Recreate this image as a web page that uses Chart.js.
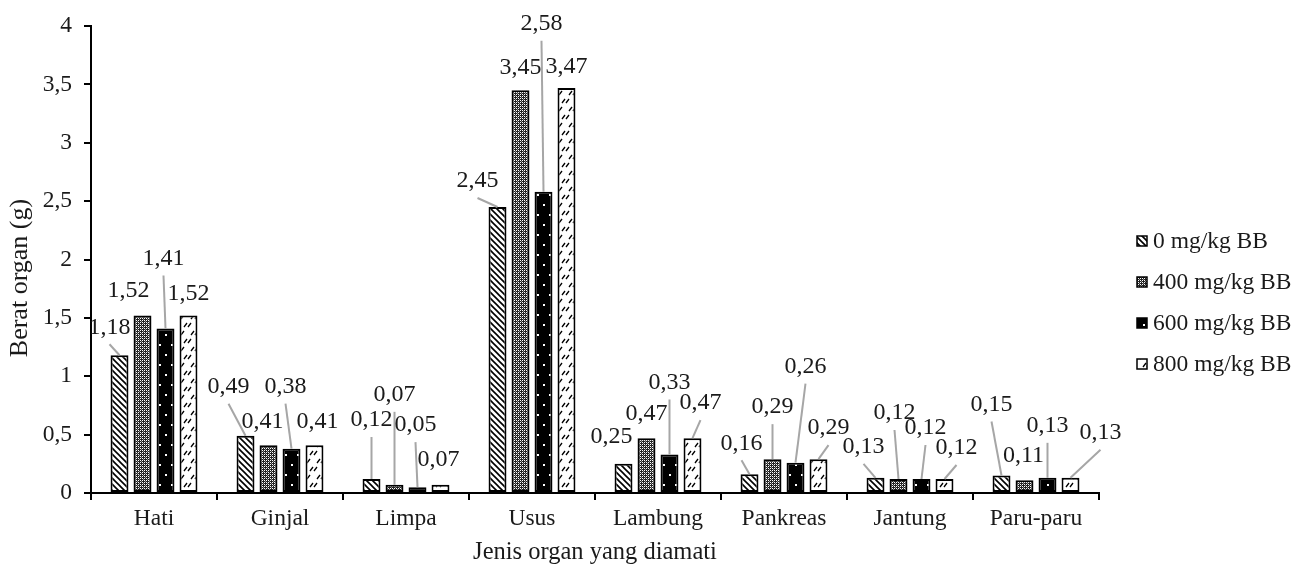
<!DOCTYPE html>
<html>
<head>
<meta charset="utf-8">
<script src="https://cdn.jsdelivr.net/npm/chart.js@4.4.1/dist/chart.umd.min.js"></script>
<style>
  body { margin: 0; background: #fff; }
</style>
</head>
<body>
<div style="width:1308px;height:575px">
  <canvas id="organChart" width="1308" height="575"></canvas>
</div>
<script>
var organs = ['Hati', 'Ginjal', 'Limpa', 'Usus', 'Lambung', 'Pankreas', 'Jantung', 'Paru-paru'];
var doseLabels = ['0 mg/kg BB', '400 mg/kg BB', '600 mg/kg BB', '800 mg/kg BB'];
var dose0 = [1.18, 0.49, 0.12, 2.45, 0.25, 0.16, 0.13, 0.15];
var dose400 = [1.52, 0.41, 0.07, 3.45, 0.47, 0.29, 0.12, 0.11];
var dose600 = [1.41, 0.38, 0.05, 2.58, 0.33, 0.26, 0.12, 0.13];
var dose800 = [1.52, 0.41, 0.07, 3.47, 0.47, 0.29, 0.12, 0.13];
var yMax = 4;
var yStep = 0.5;
var yTitle = 'Berat organ (g)';

// label offset from top-centre of each bar: [dx, dy, leader line?]
var labelOffsets = [
  [[-10,-28,1], [-17,-49,1], [0,-59,1], [-20,-26,1], [-12,-27,0], [-8,-31,1], [-12,-31,1], [-10,-71,1]],
  [[-14,-25,0], [-6,-23,0], [0,-90,1], [0,-23,0], [0,-24,0], [0,-52,1], [-4,-66,1], [-1,-24,0]],
  [[-2,-70,1], [-6,-62,1], [-2,-62,1], [-2,-168,1], [0,-72,1], [10,-96,1], [4,-51,1], [0,-52,1]],
  [[0,-22,0], [3,-23,0], [-2,-25,0], [0,-21,0], [8,-35,1], [10,-31,1], [12,-31,1], [30,-45,1]]
];

var serif = 'Liberation Serif';
var textColor = '#1a1a1a';
var fontSize = 23.5;

function makePattern(kind) {
  var c = document.createElement('canvas');
  var g;
  if (kind === 0) {
    c.width = 6; c.height = 6;
    g = c.getContext('2d');
    g.fillStyle = '#fff'; g.fillRect(0, 0, 6, 6);
    g.strokeStyle = '#000'; g.lineWidth = 1.6;
    g.beginPath();
    g.moveTo(-1, -1); g.lineTo(7, 7);
    g.moveTo(-1, 5); g.lineTo(1, 7);
    g.moveTo(5, -1); g.lineTo(7, 1);
    g.stroke();
  } else if (kind === 1) {
    c.width = 4; c.height = 4;
    g = c.getContext('2d');
    g.fillStyle = '#222'; g.fillRect(0, 0, 4, 4);
    g.fillStyle = '#fff';
    g.fillRect(0, 0, 1, 1); g.fillRect(2, 0, 1, 1);
    g.fillRect(0, 2, 1, 1); g.fillRect(2, 2, 1, 1);
    g.fillStyle = '#888';
    g.fillRect(1, 1, 1, 1); g.fillRect(3, 3, 1, 1);
  } else if (kind === 2) {
    c.width = 12; c.height = 20;
    g = c.getContext('2d');
    g.fillStyle = '#000'; g.fillRect(0, 0, 12, 20);
    g.fillStyle = '#fff';
    g.fillRect(3, 4, 2, 2); g.fillRect(9, 14, 2, 2);
  } else {
    c.width = 14; c.height = 16;
    g = c.getContext('2d');
    g.fillStyle = '#fff'; g.fillRect(0, 0, 14, 16);
    g.strokeStyle = '#000'; g.lineWidth = 1.3;
    g.beginPath();
    g.moveTo(2, 7); g.lineTo(5, 3);
    g.moveTo(6, 7); g.lineTo(9, 3);
    g.moveTo(9, 15); g.lineTo(12, 11);
    g.moveTo(13, 15); g.lineTo(16, 11);
    g.moveTo(-1, 15); g.lineTo(2, 11);
    g.stroke();
  }
  return g.createPattern(c, 'repeat');
}

var patterns = [makePattern(0), makePattern(1), makePattern(2), makePattern(3)];
var allValues = [dose0, dose400, dose600, dose800];

function fmt(v) {
  return String(v).replace('.', ',');
}

var barLabels = {
  id: 'barLabels',
  afterDatasetsDraw: function(chart) {
    var ctx = chart.ctx;
    ctx.save();
    ctx.font = '24px "' + serif + '"';
    ctx.textAlign = 'center';
    ctx.textBaseline = 'middle';
    chart.data.datasets.forEach(function(ds, i) {
      var meta = chart.getDatasetMeta(i);
      meta.data.forEach(function(bar, j) {
        var off = labelOffsets[i][j];
        var tx = bar.x + off[0];
        var ty = bar.y + off[1];
        if (off[2]) {
          ctx.strokeStyle = '#a6a6a6';
          ctx.lineWidth = 2;
          ctx.beginPath();
          ctx.moveTo(tx, ty + 17);
          ctx.lineTo(bar.x, bar.y);
          ctx.stroke();
        }
        ctx.fillStyle = textColor;
        ctx.fillText(fmt(ds.data[j]), tx, ty);
      });
    });
    ctx.restore();
  }
};

// legend on the right + y axis title (sits a bit lower than the plot centre)
var sideText = {
  id: 'sideText',
  afterDraw: function(chart) {
    var ctx = chart.ctx;
    var x = 1137, y = 241, gap = 41;
    ctx.save();
    ctx.font = fontSize + 'px "' + serif + '"';
    ctx.textAlign = 'left';
    ctx.textBaseline = 'middle';
    chart.data.datasets.forEach(function(ds, i) {
      var yy = y + i * gap;
      ctx.fillStyle = ds.backgroundColor;
      ctx.fillRect(x, yy - 5, 10, 10);
      ctx.strokeStyle = '#000';
      ctx.lineWidth = 1.5;
      ctx.strokeRect(x, yy - 5, 10, 10);
      ctx.fillStyle = textColor;
      ctx.fillText(ds.label, x + 16, yy + 1);
    });
    ctx.translate(20, 278);
    ctx.rotate(-Math.PI / 2);
    ctx.textAlign = 'center';
    ctx.font = '26px "' + serif + '"';
    ctx.fillText(yTitle, 0, 0);
    ctx.restore();
  }
};

var datasets = allValues.map(function(vals, i) {
  return {
    label: doseLabels[i],
    data: vals,
    backgroundColor: patterns[i],
    borderColor: '#000',
    borderWidth: 2,
    borderSkipped: false,
    categoryPercentage: 0.73,
    barPercentage: 0.78
  };
});

var ctx = document.getElementById('organChart').getContext('2d');
var myChart = new Chart(ctx, {
  type: 'bar',
  data: { labels: organs, datasets: datasets },
  options: {
    responsive: false,
    animation: false,
    layout: { padding: { left: 0, right: 209, top: 25, bottom: 0 } },
    plugins: {
      legend: { display: false },
      tooltip: { enabled: false }
    },
    scales: {
      x: {
        afterFit: function(s) { s.height = 82; },
        grid: { drawOnChartArea: false, drawTicks: true, tickLength: 7, color: '#000', lineWidth: 2, offset: true },
        border: { color: '#000', width: 2 },
        ticks: { color: textColor, padding: 5, font: { family: serif, size: fontSize } },
        title: { display: true, text: 'Jenis organ yang diamati', color: textColor, padding: { top: 0, bottom: 8 }, font: { family: serif, size: 24.5 } }
      },
      y: {
        min: 0,
        max: yMax,
        afterFit: function(s) { s.width = 91; },
        grid: { drawOnChartArea: false, drawTicks: true, tickLength: 7, color: '#000', lineWidth: 2 },
        border: { color: '#000', width: 2 },
        ticks: {
          stepSize: yStep,
          color: textColor,
          padding: 12,
          font: { family: serif, size: fontSize },
          callback: function(v) { return fmt(v); }
        }
      }
    }
  },
  plugins: [barLabels, sideText]
});
</script>
</body>
</html>
